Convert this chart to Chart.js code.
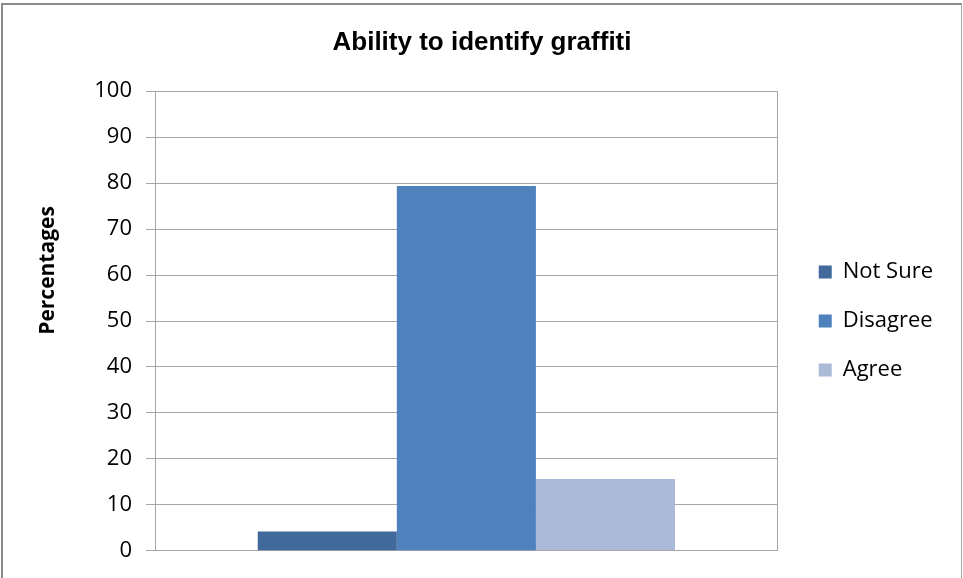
<!DOCTYPE html>
<html>
<head>
<meta charset="utf-8">
<script src="https://cdn.jsdelivr.net/npm/chart.js@4"></script>
<style>
  body { margin: 0; background: #fff; }
  #wrap { position: relative; width: 963px; height: 578px; }
  #frame {
    position: absolute; left: 1px; top: 3px; width: 958px; height: 580px;
    border-left: 2px solid #8c8c8c; border-top: 2px solid #8c8c8c; border-right: 1px solid #a8a8a8;
    pointer-events: none;
  }
  canvas { position: absolute; left: 0; top: 0; }
</style>
</head>
<body>
<div id="wrap">
  <canvas id="chart" width="963" height="578"></canvas>
  <div id="frame"></div>
</div>
<script>
const categories = [""];
const seriesNames = ["Not Sure", "Disagree", "Agree"];
const notSure = [4.2];
const disagree = [79.4];
const agree = [15.6];
const colors = ["#41699b", "#4f81bd", "#aabad7"];
const yTitle = "Percentages";

const tickFont = { family: "Open Sans", size: 22 };

// Excel puts the value-axis title a bit above the middle, and leaves a gap
// between the plot and the legend
const tweaks = {
    id: "tweaks",
    afterLayout(chart) {
        chart.legend.left += 14;
        chart.legend.right += 14;
    },
    afterDraw(chart) {
        const ctx = chart.ctx;
        const a = chart.chartArea;
        ctx.save();
        ctx.translate(48, a.top + (a.bottom - a.top) * 0.39);
        ctx.rotate(-Math.PI / 2);
        ctx.fillStyle = "#000";
        ctx.font = "bold 21px 'Open Sans'";
        ctx.textAlign = "center";
        ctx.textBaseline = "middle";
        ctx.fillText(yTitle, 0, 0);
        ctx.restore();
    }
};

new Chart(document.getElementById("chart"), {
    type: "bar",
    data: {
        labels: categories,
        datasets: [
            { label: seriesNames[0], data: notSure, backgroundColor: colors[0] },
            { label: seriesNames[1], data: disagree, backgroundColor: colors[1] },
            { label: seriesNames[2], data: agree, backgroundColor: colors[2] }
        ]
    },
    plugins: [tweaks],
    options: {
        responsive: false,
        animation: false,
        layout: { padding: { left: 35, top: 20, bottom: 27, right: 34 } },
        datasets: { bar: { categoryPercentage: 0.67, barPercentage: 1 } },
        plugins: {
            title: {
                display: true,
                text: "Ability to identify graffiti",
                color: "#000",
                font: { family: "Liberation Sans", size: 26, weight: "bold" },
                padding: { top: 7, bottom: 33 }
            },
            legend: {
                position: "right",
                fullSize: false,
                labels: {
                    boxWidth: 13, boxHeight: 13, padding: 27,
                    color: "#000", font: tickFont
                }
            },
            tooltip: { enabled: false }
        },
        scales: {
            x: {
                grid: { display: true, color: "#a6a6a6", drawTicks: false, offset: true },
                border: { display: true, color: "#a6a6a6" },
                ticks: { display: false },
                afterFit: s => { s.height = 0; }
            },
            y: {
                min: 0, max: 100,
                ticks: { stepSize: 10, color: "#000", font: tickFont, padding: 14 },
                grid: { color: "#a6a6a6", tickLength: 9 },
                border: { color: "#a6a6a6" },
                afterFit: s => { s.width = 120; }
            }
        }
    }
});
</script>
</body>
</html>
